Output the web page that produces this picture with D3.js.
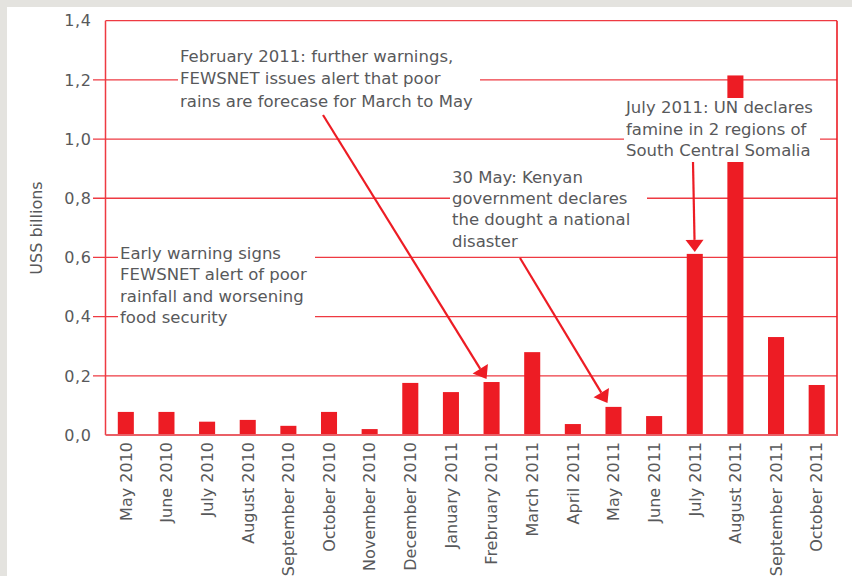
<!DOCTYPE html>
<html>
<head>
<meta charset="utf-8">
<script src="https://cdn.jsdelivr.net/npm/d3@7"></script>
<style>
  html, body { margin: 0; padding: 0; background: #e4e3df; }
  svg { display: block; }
  text { font-family: "DejaVu Sans", sans-serif; fill: #58595b; }
</style>
</head>
<body>
<div id="chart"></div>
<script>
// months on the x axis
var months = ["May 2010", "June 2010", "July 2010", "August 2010", "September 2010",
    "October 2010", "November 2010", "December 2010", "January 2011", "Frebruary 2011",
    "March 2011", "April 2011", "May 2011", "June 2011", "July 2011", "August 2011",
    "September 2011", "October 2011"];
// humanitarian funding, US$ billions
var funding = [0.078, 0.078, 0.045, 0.051, 0.031, 0.078, 0.02, 0.176, 0.145, 0.179,
    0.28, 0.037, 0.095, 0.064, 0.612, 1.215, 0.331, 0.169];
var yTicks = [0, 0.2, 0.4, 0.6, 0.8, 1.0, 1.2, 1.4];

// annotations: text lines and the month they point at
var noteLines = [
    ["February 2011: further warnings,", "FEWSNET issues alert that poor", "rains are forecase for March to May"],
    ["Early warning signs", "FEWSNET alert of poor", "rainfall and worsening", "food security"],
    ["30 May: Kenyan", "government declares", "the dought a national", "disaster"],
    ["July 2011: UN declares", "famine in 2 regions of", "South Central Somalia"]
];
var noteTargets = ["Frebruary 2011", null, "May 2011", "July 2011"];

var outerWidth = 852, outerHeight = 576;
var margin = {top: 20.7, right: 15, bottom: 141, left: 105.5};
var width = outerWidth - margin.left - margin.right,
    height = outerHeight - margin.top - margin.bottom;

var red = "#ed1c24";
var gridRed = "#ee3a42";

var svg = d3.select("#chart").append("svg")
    .attr("width", outerWidth)
    .attr("height", outerHeight);

// white panel
svg.append("rect")
    .attr("x", 7).attr("y", 7)
    .attr("width", outerWidth - 7).attr("height", outerHeight - 7)
    .attr("fill", "#fff");

var g = svg.append("g")
    .attr("transform", "translate(" + margin.left + "," + margin.top + ")");

var xScale = d3.scaleBand()
    .domain(months)
    .range([0, width])
    .paddingInner(0.605)
    .paddingOuter(0.3025);

var yScale = d3.scaleLinear()
    .domain([0, 1.4])
    .range([height, 0]);

var fmt = function(d) { return d3.format(".1f")(d).replace(".", ","); };

// gridlines with little tick stubs on the left
g.selectAll(".grid")
    .data(yTicks.filter(d => d > 0 && d < 1.4))
    .enter()
    .append("line")
    .attr("class", "grid")
    .attr("x1", -12.5)
    .attr("x2", width)
    .attr("y1", d => yScale(d))
    .attr("y2", d => yScale(d))
    .attr("stroke", gridRed)
    .attr("stroke-width", 1.3);

// y tick labels
g.selectAll(".ylab")
    .data(yTicks)
    .enter()
    .append("text")
    .attr("class", "ylab")
    .attr("x", -14)
    .attr("y", d => yScale(d))
    .attr("dy", "0.36em")
    .attr("text-anchor", "end")
    .style("font-size", "16px")
    .style("letter-spacing", "0.6px")
    .text(fmt);

// bars
g.selectAll(".bar")
    .data(funding)
    .enter()
    .append("rect")
    .attr("class", "bar")
    .attr("x", (d, i) => xScale(months[i]))
    .attr("width", xScale.bandwidth())
    .attr("y", d => yScale(d))
    .attr("height", d => height - yScale(d))
    .attr("fill", red);

// frame
g.append("line").attr("x1", 0).attr("x2", width).attr("y1", 0).attr("y2", 0)
    .attr("stroke", gridRed).attr("stroke-width", 1.3);
g.append("line").attr("x1", 0).attr("x2", 0).attr("y1", 0).attr("y2", height)
    .attr("stroke", gridRed).attr("stroke-width", 1.5);
g.append("line").attr("x1", width).attr("x2", width).attr("y1", 0).attr("y2", height + 1)
    .attr("stroke", red).attr("stroke-width", 1.6);
g.append("line").attr("x1", 0).attr("x2", width + 0.8).attr("y1", height).attr("y2", height)
    .attr("stroke", "#ea5f66").attr("stroke-width", 2);

// x labels
g.selectAll(".xlab")
    .data(months)
    .enter()
    .append("text")
    .attr("class", "xlab")
    .attr("transform", d => "translate(" + (xScale(d) + xScale.bandwidth() / 2) + "," + (height + 7) + ") rotate(-90)")
    .attr("dy", "0.36em")
    .attr("text-anchor", "end")
    .style("font-size", "16px")
    .text(d => d);

// y title
svg.append("text")
    .attr("transform", "translate(42,228) rotate(-90)")
    .attr("text-anchor", "middle")
    .style("font-size", "16px")
    .text("USS billions");

// annotation layout: text origin (first baseline), white box, line step
var noteLayout = [
    {x: 180, y: 61.5, step: 22.6, box: [178, 40, 302, 73]},
    {x: 120, y: 259, step: 21.3, box: [118, 240, 197, 90]},
    {x: 452, y: 182.7, step: 21.3, box: [450, 160, 197, 96]},
    {x: 626, y: 113.3, step: 21.2, box: [624, 98, 196, 64]}
];
// arrow start points and tip offsets from the bar top
var arrowLayout = [
    {x0: 323, y0: 115, dx: -5, dy: -3},
    null,
    {x0: 520, y0: 258, dx: -6, dy: -4},
    {x0: 693, y0: 162, dx: 0, dy: -2}
];

var notes = svg.append("g");
noteLines.forEach(function(lines, k) {
    var L = noteLayout[k];
    notes.append("rect")
        .attr("x", L.box[0]).attr("y", L.box[1])
        .attr("width", L.box[2]).attr("height", L.box[3])
        .attr("fill", "#fff");
    var t = notes.append("text")
        .attr("x", L.x)
        .attr("y", L.y)
        .style("font-size", "16.5px");
    lines.forEach(function(s, j) {
        t.append("tspan").attr("x", L.x).attr("y", L.y + j * L.step).text(s);
    });
});

// arrows to the bars
noteTargets.forEach(function(m, k) {
    if (!m) return;
    var A = arrowLayout[k];
    var i = months.indexOf(m);
    var tx = margin.left + xScale(m) + xScale.bandwidth() / 2 + A.dx;
    var ty = margin.top + yScale(funding[i]) + A.dy;
    var ang = Math.atan2(ty - A.y0, tx - A.x0);
    var headLen = 12, headHalf = 9;
    var bx = tx - headLen * Math.cos(ang), by = ty - headLen * Math.sin(ang);
    notes.append("line")
        .attr("x1", A.x0).attr("y1", A.y0)
        .attr("x2", bx).attr("y2", by)
        .attr("stroke", red)
        .attr("stroke-width", 2.2);
    var px = -Math.sin(ang), py = Math.cos(ang);
    notes.append("path")
        .attr("d", "M" + tx + "," + ty +
            "L" + (bx + px * headHalf) + "," + (by + py * headHalf) +
            "L" + (bx - px * headHalf) + "," + (by - py * headHalf) + "Z")
        .attr("fill", red);
});
</script>
</body>
</html>
